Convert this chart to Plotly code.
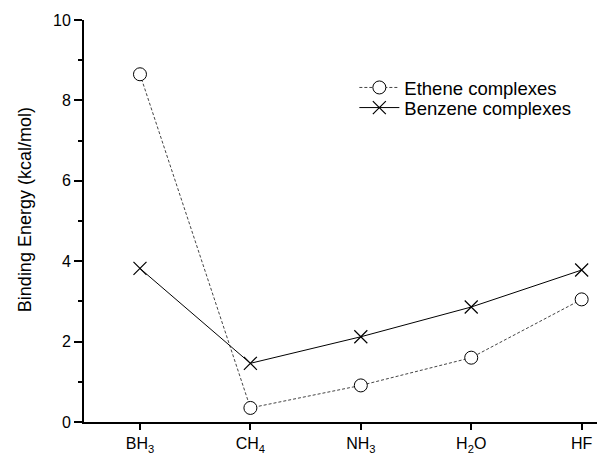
import plotly.graph_objects as go

categories = ["BH<sub>3</sub>", "CH<sub>4</sub>", "NH<sub>3</sub>", "H<sub>2</sub>O", "HF"]
ethene = [8.65, 0.35, 0.91, 1.60, 3.05]
benzene = [3.82, 1.46, 2.12, 2.86, 3.78]
yticks = [0, 2, 4, 6, 8, 10]
y_title = "Binding Energy (kcal/mol)"

FONT = "Liberation Sans, Arial, Helvetica, sans-serif"

fig = go.Figure()
fig.add_trace(go.Scatter(
    x=categories, y=ethene, name="Ethene complexes", mode="lines+markers",
    line=dict(color="#444444", width=1, dash="3px,2px"),
    marker=dict(symbol="circle", size=13, color="white",
                line=dict(color="black", width=1)),
    legend="legend",
))
fig.add_trace(go.Scatter(
    x=categories, y=benzene, name="Benzene complexes", mode="lines+markers",
    line=dict(color="black", width=1),
    marker=dict(symbol="x-thin-open", size=13, color="black",
                line=dict(color="black", width=1.2)),
    legend="legend2",
))

leg_common = dict(xanchor="left", yanchor="middle", bgcolor="rgba(0,0,0,0)",
                  font=dict(size=18.5), itemwidth=40)

fig.update_layout(
    width=597, height=454,
    margin=dict(l=84, r=0, t=20, b=32),
    paper_bgcolor="white", plot_bgcolor="white",
    font=dict(family=FONT, size=16, color="black"),
    showlegend=True,
    legend=dict(x=0.527, y=0.831, **leg_common),
    legend2=dict(x=0.527, y=0.781, **leg_common),
    xaxis=dict(
        type="category", range=[-0.507, 4.139], automargin=False,
        showline=True, linecolor="black", linewidth=2,
        ticks="outside", ticklen=6, tickwidth=1.5, tickcolor="black",
        showgrid=False, zeroline=False,
        tickfont=dict(size=16), ticklabeloverflow="allow",
    ),
    yaxis=dict(
        range=[0, 10], tickvals=yticks, ticktext=[str(v) for v in yticks],
        automargin=False,
        showline=True, linecolor="black", linewidth=2,
        ticks="outside", ticklen=8, tickwidth=1.5, tickcolor="black",
        minor=dict(ticks="outside", ticklen=4, tickwidth=1.5, tickcolor="black",
                   tickvals=[1, 3, 5, 7, 9]),
        showgrid=False, zeroline=False,
        tickfont=dict(size=16),
    ),
    annotations=[dict(
        text=y_title, textangle=-90, showarrow=False,
        xref="paper", yref="paper", x=-0.115, y=0.527,
        xanchor="center", yanchor="middle", font=dict(size=18),
    )],
)

fig.write_html(
    "out.html",
    config={"displayModeBar": False},
    post_script="document.body.style.margin='0';document.body.style.overflow='hidden';",
)
